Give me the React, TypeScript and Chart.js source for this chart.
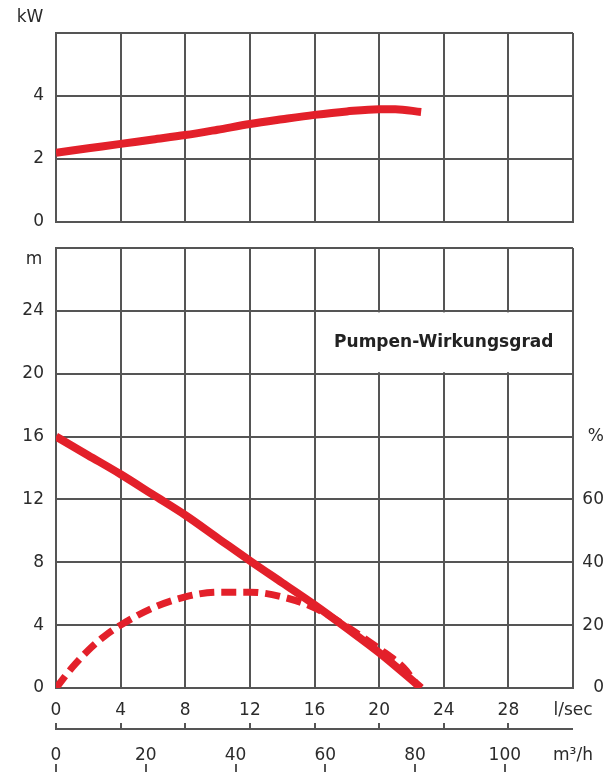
import React, { useEffect, useRef } from 'react';
import { Chart, registerables } from 'chart.js';

Chart.register(...registerables);

// ---- data ----
const powerFlow = [0, 2, 4, 6, 8, 10, 12, 14, 16, 18, 20, 21, 22.6];
const powerKW = [2.2, 2.34, 2.48, 2.62, 2.76, 2.93, 3.11, 3.26, 3.4, 3.51, 3.58, 3.58, 3.49];

const headFlow = [0, 2, 4, 6, 8, 10, 12, 14, 16, 18, 20, 22.6];
const headM = [16, 14.8, 13.6, 12.3, 11.0, 9.55, 8.1, 6.7, 5.3, 3.8, 2.25, 0];

const effFlow = [0, 1, 2, 3, 4, 6, 8, 10, 12, 14, 16, 18, 20, 21.5, 22.5];
const effPct = [0, 6.5, 12, 16.5, 20, 25.5, 29, 30.5, 30.5, 29, 25.5, 19.5, 12.5, 6.5, 0];

// ---- ticks / labels ----
const lpsTicks = [0, 4, 8, 12, 16, 20, 24, 28, 32];
const lpsUnit = 'l/sec';
const m3hTicks = [0, 20, 40, 60, 80, 100];
const m3hUnit = 'm³/h';
const m3hMax = 115.2; // 32 l/sec * 3.6
const kwTicks = [0, 2, 4, 6];
const kwUnit = 'kW';
const headTicks = [0, 4, 8, 12, 16, 20, 24, 28];
const headUnit = 'm';
const pctTicks = [0, 20, 40, 60, 80];
const pctUnit = '%';
const effLabel = 'Pumpen-Wirkungsgrad';

const RED = '#e3202a';
const GRID = '#555555';
const TEXT = '#2b2b2b';
const FONT = 'DejaVu Sans';
const tickFont = { family: FONT, size: 17 };

function toXY(xs: number[], ys: number[]) {
  return xs.map((x, i) => ({ x, y: ys[i] }));
}

const unitPlugin = (text: string, dx: number, dy: number) => ({
  id: 'unitLabel',
  afterDraw(chart: any) {
    const { ctx, chartArea } = chart;
    ctx.save();
    ctx.fillStyle = TEXT;
    ctx.font = `17px "${FONT}"`;
    ctx.textAlign = 'center';
    ctx.textBaseline = 'middle';
    ctx.fillText(text, chartArea.left + dx, chartArea.top + dy);
    ctx.restore();
  },
});

const boxPlugin = {
  id: 'effBox',
  beforeDatasetsDraw(chart: any) {
    const { ctx } = chart;
    const xs = chart.scales.x;
    const ys = chart.scales.y;
    const l = xs.getPixelForValue(16) + 1.5;
    const r = xs.getPixelForValue(32) - 1.5;
    const t = ys.getPixelForValue(24) + 1.5;
    const b = ys.getPixelForValue(20) - 1.5;
    ctx.save();
    ctx.fillStyle = '#ffffff';
    ctx.fillRect(l, t, r - l, b - t);
    ctx.fillStyle = '#222222';
    ctx.font = `bold 17px "${FONT}"`;
    ctx.textAlign = 'center';
    ctx.textBaseline = 'middle';
    ctx.fillText(effLabel, (l + r) / 2, (t + b) / 2);
    ctx.restore();
  },
};

const secondAxisPlugin = {
  id: 'secondAxis',
  afterDraw(chart: any) {
    const { ctx } = chart;
    const xs = chart.scales.x;
    const x2 = chart.scales.x2;
    const yLine = Math.round(x2.top + 5);
    ctx.save();
    ctx.strokeStyle = GRID;
    ctx.lineWidth = 2;
    ctx.beginPath();
    ctx.moveTo(xs.getPixelForValue(0) - 1, yLine);
    ctx.lineTo(xs.getPixelForValue(32), yLine);
    for (const v of lpsTicks) {
      if (v === 32) continue;
      const px = Math.round(xs.getPixelForValue(v));
      ctx.moveTo(px, yLine);
      ctx.lineTo(px, yLine - 6);
    }
    for (const v of m3hTicks) {
      const px = Math.round(x2.getPixelForValue(v));
      ctx.moveTo(px, x2.bottom - 8);
      ctx.lineTo(px, x2.bottom);
    }
    ctx.stroke();
    ctx.restore();
  },
};

const gridOpts = { color: GRID, lineWidth: 2, drawTicks: false };
const borderOpts = { color: GRID, width: 2 };

const fitY = (w: number) => (s: any) => {
  s.width = w;
  s.paddingTop = 0;
  s.paddingBottom = 0;
};

export default function App() {
  const topRef = useRef<HTMLCanvasElement>(null);
  const botRef = useRef<HTMLCanvasElement>(null);

  useEffect(() => {
    const top = new Chart(topRef.current as HTMLCanvasElement, {
      type: 'line',
      data: {
        datasets: [
          {
            data: toXY(powerFlow, powerKW),
            borderColor: RED,
            borderWidth: 8,
            pointRadius: 0,
            cubicInterpolationMode: 'monotone',
            clip: 0,
          } as any,
        ],
      },
      options: {
        responsive: false,
        animation: false,
        layout: { padding: { top: 33, right: 43, bottom: 13, left: 0 } },
        plugins: { legend: { display: false }, tooltip: { enabled: false } },
        scales: {
          x: {
            type: 'linear',
            min: 0,
            max: 32,
            afterBuildTicks: (s: any) => {
              s.ticks = lpsTicks.map((v) => ({ value: v }));
            },
            ticks: { display: false },
            grid: gridOpts,
            border: borderOpts,
            afterFit: (s: any) => {
              s.height = 0;
              s.paddingLeft = 0;
              s.paddingRight = 0;
            },
          },
          y: {
            type: 'linear',
            min: 0,
            max: 6,
            afterBuildTicks: (s: any) => {
              s.ticks = kwTicks.map((v) => ({ value: v }));
            },
            ticks: {
              callback: (v: any) => (v === 6 ? '' : String(v)),
              font: tickFont,
              color: TEXT,
              padding: 12,
            },
            grid: gridOpts,
            border: borderOpts,
            afterFit: fitY(56),
          },
        },
      } as any,
      plugins: [unitPlugin(kwUnit, -26, -15)],
    });

    const bot = new Chart(botRef.current as HTMLCanvasElement, {
      type: 'line',
      data: {
        datasets: [
          {
            data: toXY(headFlow, headM),
            borderColor: RED,
            borderWidth: 8,
            pointRadius: 0,
            cubicInterpolationMode: 'monotone',
            xAxisID: 'x',
            yAxisID: 'y',
            clip: 0,
          } as any,
          {
            data: toXY(effFlow, effPct),
            borderColor: RED,
            borderWidth: 7,
            borderDash: [15, 7],
            pointRadius: 0,
            cubicInterpolationMode: 'monotone',
            xAxisID: 'x',
            yAxisID: 'yr',
            clip: 0,
          } as any,
        ],
      },
      options: {
        responsive: false,
        animation: false,
        layout: { padding: { top: 13, right: 12, bottom: 0, left: 0 } },
        plugins: { legend: { display: false }, tooltip: { enabled: false } },
        scales: {
          x: {
            type: 'linear',
            position: 'bottom',
            weight: 0,
            min: 0,
            max: 32,
            afterBuildTicks: (s: any) => {
              s.ticks = lpsTicks.map((v) => ({ value: v }));
            },
            ticks: {
              callback: (v: any) => (v === 32 ? lpsUnit : String(v)),
              font: tickFont,
              color: TEXT,
              padding: 12,
              maxRotation: 0,
              autoSkip: false,
            },
            grid: gridOpts,
            border: borderOpts,
            afterFit: (s: any) => {
              s.height = 36;
            },
          },
          x2: {
            type: 'linear',
            position: 'bottom',
            weight: 1,
            min: 0,
            max: m3hMax,
            afterBuildTicks: (s: any) => {
              s.ticks = [...m3hTicks, m3hMax].map((v) => ({ value: v }));
            },
            ticks: {
              callback: (v: any) => (v === m3hMax ? m3hUnit : String(v)),
              font: tickFont,
              color: TEXT,
              padding: 21,
              maxRotation: 0,
              autoSkip: false,
            },
            grid: { display: false, drawTicks: false },
            border: { display: false },
            afterFit: (s: any) => {
              s.height = 48;
            },
          },
          y: {
            type: 'linear',
            position: 'left',
            min: 0,
            max: 28,
            afterBuildTicks: (s: any) => {
              s.ticks = headTicks.map((v) => ({ value: v }));
            },
            ticks: {
              callback: (v: any) => (v === 28 ? '' : String(v)),
              font: tickFont,
              color: TEXT,
              padding: 12,
            },
            grid: gridOpts,
            border: borderOpts,
            afterFit: fitY(56),
          },
          yr: {
            type: 'linear',
            position: 'right',
            min: 0,
            max: 140,
            afterBuildTicks: (s: any) => {
              s.ticks = pctTicks.map((v) => ({ value: v }));
            },
            ticks: {
              callback: (v: any) => (v === 80 ? pctUnit : String(v)),
              font: tickFont,
              color: TEXT,
              padding: 9,
              crossAlign: 'far',
            },
            grid: { display: false, drawTicks: false },
            border: { display: false },
            afterFit: fitY(31),
          },
        },
      } as any,
      plugins: [unitPlugin(headUnit, -22, 12), boxPlugin, secondAxisPlugin],
    });

    return () => {
      top.destroy();
      bot.destroy();
    };
  }, []);

  return (
    <div style={{ position: 'fixed', left: 0, top: 0, width: 616, height: 772, background: '#ffffff' }}>
      <canvas ref={topRef} width={616} height={235} style={{ position: 'absolute', left: 0, top: 0 }} />
      <canvas ref={botRef} width={616} height={537} style={{ position: 'absolute', left: 0, top: 235 }} />
    </div>
  );
}
